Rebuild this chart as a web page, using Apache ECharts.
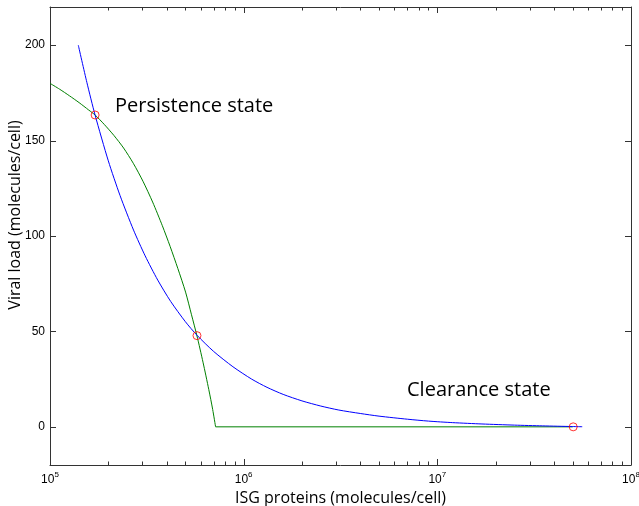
<!DOCTYPE html>
<html><head><meta charset="utf-8">
<script src="https://cdn.jsdelivr.net/npm/echarts@6/dist/echarts.min.js"></script>
<style>html,body{margin:0;padding:0;background:#fff}#c{width:639px;height:506px}</style>
</head><body><div id="c"></div>
<script>
// ---- data ----
const blueX = [1.40e5,1.55e5,1.71e5,2.0e5,2.3e5,2.7e5,3.1e5,3.6e5,4.2e5,5.0e5,5.74e5,7.0e5,8.8e5,1.1e6,1.32e6,1.6e6,2.0e6,2.5e6,3.1e6,4.0e6,5.0e6,7.0e6,9.0e6,1.2e7,1.7e7,2.5e7,3.5e7,5.0e7,5.6e7];
const blueY = [200,180.5,163.3,139.4,121.2,103.1,89.6,76.9,65.7,55.1,48,39.5,31.5,25,20.7,17,13.6,10.9,8.8,7.0,5.6,4.0,3.0,2.2,1.5,0.9,0.5,0.15,0.05];
const greenX = [1.0e5,1.122e5,1.259e5,1.413e5,1.585e5,1.71e5,1.905e5,2.138e5,2.399e5,2.692e5,3.02e5,3.388e5,3.802e5,4.169e5,4.571e5,5.012e5,5.37e5,5.741e5,6.166e5,6.607e5,6.918e5,7.161e5];
const greenY = [180,176.9,173.5,169.9,166,163.4,158.5,152.7,146.1,138.1,128.7,117.8,105.4,94.6,83,70.6,59,47.6,33.9,19.5,9.1,0];
const greenFlatX = [7.161e5,5.0e7];
const greenFlatY = [0,0];
const markX = [1.71e5,5.74e5,5.03e7];
const markY = [163.4,47.8,0];
const xMajorTicks = [1e5,1e6,1e7,1e8];
const xMinorTicks = [2e5,3e5,4e5,5e5,6e5,7e5,8e5,9e5,2e6,3e6,4e6,5e6,6e6,7e6,8e6,9e6,2e7,3e7,4e7,5e7,6e7,7e7,8e7,9e7];
const yTicks = [0,50,100,150,200];
const xMin = 1e5, xMax = 1e8, yMin = -20, yMax = 220;
const xTitle = 'ISG proteins (molecules/cell)';
const yTitle = 'Viral load (molecules/cell)';
const note1 = 'Persistence state';
const note2 = 'Clearance state';

const zip = (a,b)=>a.map((v,i)=>[v,b[i]]);
const axisCol = '#333';
const tickFont = 'Liberation Sans';
const titleFont = 'Open Sans';

const xTickData = xMajorTicks.map(v=>[v,1]).concat(xMinorTicks.map(v=>[v,0]));
const yTickData = yTicks.map(v=>[xMin,v]);
const px = v=>Math.round(v)+0.5;

function xAx(pos, showLabel){
  return {
    type:'log', logBase:10, min:xMin, max:xMax, position:pos,
    axisLine:{show:true, onZero:false, lineStyle:{color:axisCol,width:1}},
    axisTick:{show:false},
    axisLabel:{show:showLabel, customValues:xMajorTicks, margin:6, color:'#000',
      formatter:v=>'{b|10}{s|'+Math.round(Math.log10(v))+'}',
      rich:{b:{fontSize:12,fontFamily:tickFont,color:'#000',lineHeight:18},
            s:{fontSize:8,fontFamily:tickFont,color:'#000',lineHeight:8,verticalAlign:'top'}}},
    splitLine:{show:false}, minorTick:{show:false}, minorSplitLine:{show:false},
    name: showLabel?xTitle:'', nameLocation:'middle', nameGap:20,
    nameTextStyle:{fontFamily:titleFont,fontSize:16,color:'#000'}
  };
}
function yAx(pos, showLabel){
  return {
    type:'value', min:yMin, max:yMax, position:pos,
    axisLine:{show:true, onZero:false, lineStyle:{color:axisCol,width:1}},
    axisTick:{show:false},
    axisLabel:{show:showLabel, customValues:yTicks, margin:5, color:'#000', fontSize:12, fontFamily:tickFont},
    splitLine:{show:false}
  };
}

const chart = echarts.init(document.getElementById('c'), null, {renderer:'canvas'});
chart.setOption({
  animation:false,
  backgroundColor:'#fff',
  grid:{left:50,right:8,top:7,bottom:41,containLabel:false,outerBoundsMode:'none'},
  xAxis:[xAx('bottom',true), xAx('top',false)],
  yAxis:[yAx('left',true), yAx('right',false)],
  series:[
    {type:'line', xAxisIndex:0, yAxisIndex:0, data:zip(blueX,blueY), smooth:0.25, showSymbol:false, lineStyle:{color:'#0000ff',width:1}, z:3},
    {type:'line', xAxisIndex:0, yAxisIndex:0, data:zip(greenX,greenY), smooth:0.25, showSymbol:false, lineStyle:{color:'#008000',width:1}, z:2},
    {type:'line', xAxisIndex:0, yAxisIndex:0, data:zip(greenFlatX,greenFlatY), showSymbol:false, lineStyle:{color:'#008000',width:1}, z:2},
    {type:'scatter', xAxisIndex:0, yAxisIndex:0, data:zip(markX,markY), symbol:'circle', symbolSize:8,
     itemStyle:{color:'rgba(0,0,0,0)', borderColor:'#ff0000', borderWidth:1}, z:4},
    {type:'custom', xAxisIndex:0, yAxisIndex:0, silent:true, clip:false, z:5, data:xTickData,
     renderItem:(params, api)=>{
       const v = api.value(0), len = api.value(1) ? 6 : 3.5;
       const b = api.coord([v, yMin]), t = api.coord([v, yMax]);
       const x = px(b[0]);
       return {type:'group', children:[
         {type:'line', shape:{x1:x,y1:b[1],x2:x,y2:b[1]-len}, style:{stroke:axisCol,lineWidth:1}},
         {type:'line', shape:{x1:x,y1:t[1],x2:x,y2:t[1]+len}, style:{stroke:axisCol,lineWidth:1}}
       ]};
     }},
    {type:'custom', xAxisIndex:0, yAxisIndex:0, silent:true, clip:false, z:5, data:yTickData,
     renderItem:(params, api)=>{
       const v = api.value(1), len = 6;
       const l = api.coord([xMin, v]), r = api.coord([xMax, v]);
       const y = px(l[1]);
       return {type:'group', children:[
         {type:'line', shape:{x1:l[0],y1:y,x2:l[0]+len,y2:y}, style:{stroke:axisCol,lineWidth:1}},
         {type:'line', shape:{x1:r[0],y1:y,x2:r[0]-len,y2:y}, style:{stroke:axisCol,lineWidth:1}}
       ]};
     }}
  ],
  graphic:[
    {type:'text', left:115, top:96, style:{text:note1, font:'20px "Open Sans"', fill:'#000'}},
    {type:'text', left:407, top:380, style:{text:note2, font:'20px "Open Sans"', fill:'#000'}},
    {type:'text', x:15, y:215, rotation:Math.PI/2, style:{text:yTitle, font:'16px "Open Sans"', fill:'#000', align:'center', verticalAlign:'middle'}}
  ]
});
</script></body></html>
